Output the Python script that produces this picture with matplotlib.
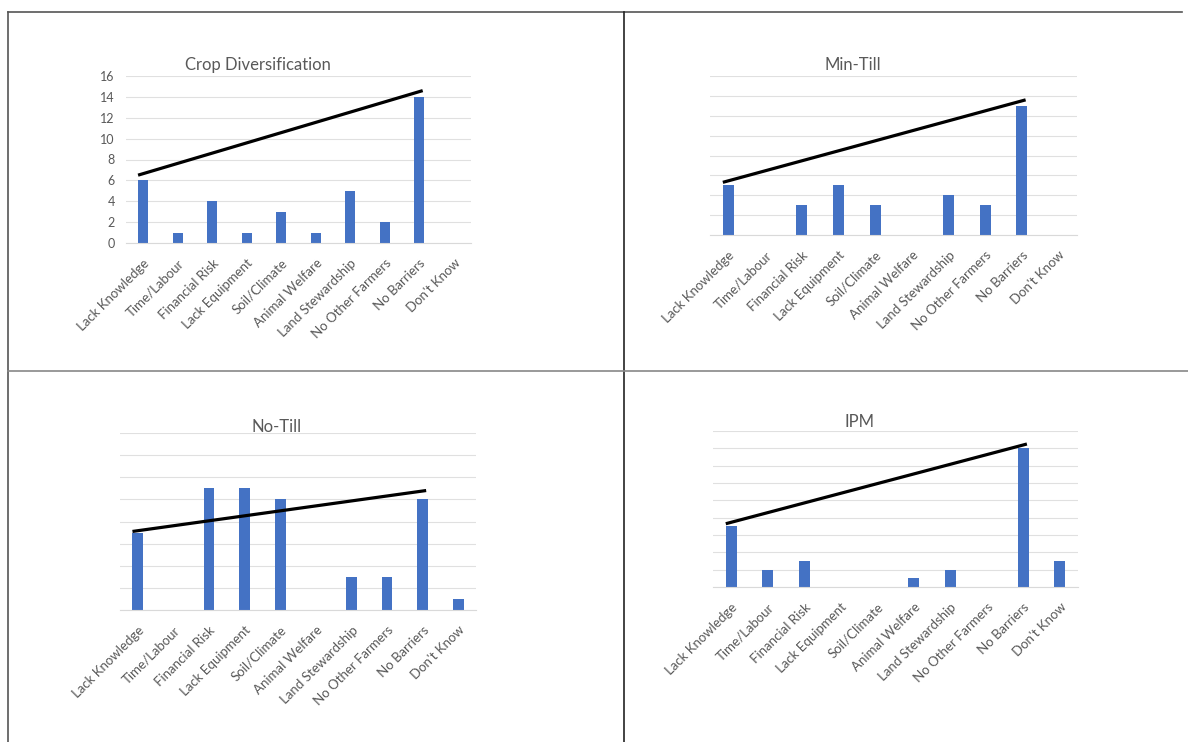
import matplotlib.pyplot as plt
from matplotlib.lines import Line2D

plt.rcParams['font.family'] = ['Lato', 'DejaVu Sans']

# Datos
categories = ["Lack Knowledge", "Time/Labour", "Financial Risk", "Lack Equipment",
              "Soil/Climate", "Animal Welfare", "Land Stewardship",
              "No Other Farmers", "No Barriers", "Don't Know"]

crop_div = [6, 1, 4, 1, 3, 1, 5, 2, 14, 0]
min_till = [5, 0, 3, 5, 3, 0, 4, 3, 13, 0]
no_till = [7, 0, 11, 11, 10, 0, 3, 3, 10, 1]
ipm = [7, 2, 3, 0, 0, 1, 2, 0, 16, 3]

# linea de tendencia dibujada a mano: (valor inicio, valor fin)
crop_div_trend = [6.5, 14.6]
min_till_trend = [5.3, 13.6]
no_till_trend = [7.1, 10.8]
ipm_trend = [7.3, 16.5]

W, H = 1188, 742
fig = plt.figure(figsize=(W / 100, H / 100), dpi=100)

BLUE = "#4472C4"
GRAY = "#595959"

panels = [
    # titulo, valores, tendencia, (x0, x1, ytop, ybase) px, ymax, etiquetas y, pos titulo
    ("Crop Diversification", crop_div, crop_div_trend, (126, 471, 76, 243), 16, True, (258, 65)),
    ("Min-Till", min_till, min_till_trend, (710, 1077, 76, 235), 16, False, (853, 65)),
    ("No-Till", no_till, no_till_trend, (120, 476, 433, 610), 16, False, (277, 427)),
    ("IPM", ipm, ipm_trend, (713, 1078, 431, 587), 18, False, (859, 422)),
]

for title, vals, trend, (x0, x1, yt, yb), ymax, show_y, (tx, ty) in panels:
    ax = fig.add_axes([x0 / W, 1 - yb / H, (x1 - x0) / W, (yb - yt) / H])
    pos = list(range(len(categories)))
    ax.bar(pos, vals, width=0.3, color=BLUE, zorder=2)
    ax.plot([-0.15, 8.1], trend, color="black", lw=2.3, zorder=3,
            solid_capstyle="butt", clip_on=False)
    ax.set_xlim(-0.5, len(categories) - 0.5)
    ax.set_ylim(0, ymax)
    ax.set_yticks(range(0, ymax + 1, 2))
    ax.yaxis.grid(True, color="#E0E0E0", lw=0.8, zorder=0)
    ax.set_axisbelow(True)
    for s in ax.spines.values():
        s.set_visible(False)
    ax.spines["bottom"].set_visible(True)
    ax.spines["bottom"].set_color("#D9D9D9")
    ax.tick_params(length=0)
    if show_y:
        ax.tick_params(axis="y", labelsize=9, labelcolor=GRAY, pad=8)
    else:
        ax.set_yticklabels([])
    ax.set_xticks(pos)
    ax.set_xticklabels(categories, rotation=45, ha="right", rotation_mode="anchor",
                       fontsize=9.5, color=GRAY)
    ax.tick_params(axis="x", pad=10)
    fig.text(tx / W, 1 - ty / H, title, ha="center", va="center",
             fontsize=12, color=GRAY)

# marco de los paneles
frame = [
    ((8, 1182), (12, 12), "#555555"),
    ((8, 8), (12, 742), "#555555"),
    ((624, 624), (12, 742), "#222222"),
    ((8, 1188), (371, 371), "#888888"),
]
for xs, ys, c in frame:
    fig.add_artist(Line2D([x / W for x in xs], [1 - y / H for y in ys],
                          color=c, lw=1.2, transform=fig.transFigure))

fig.savefig("out.png", dpi=100, facecolor="white")
